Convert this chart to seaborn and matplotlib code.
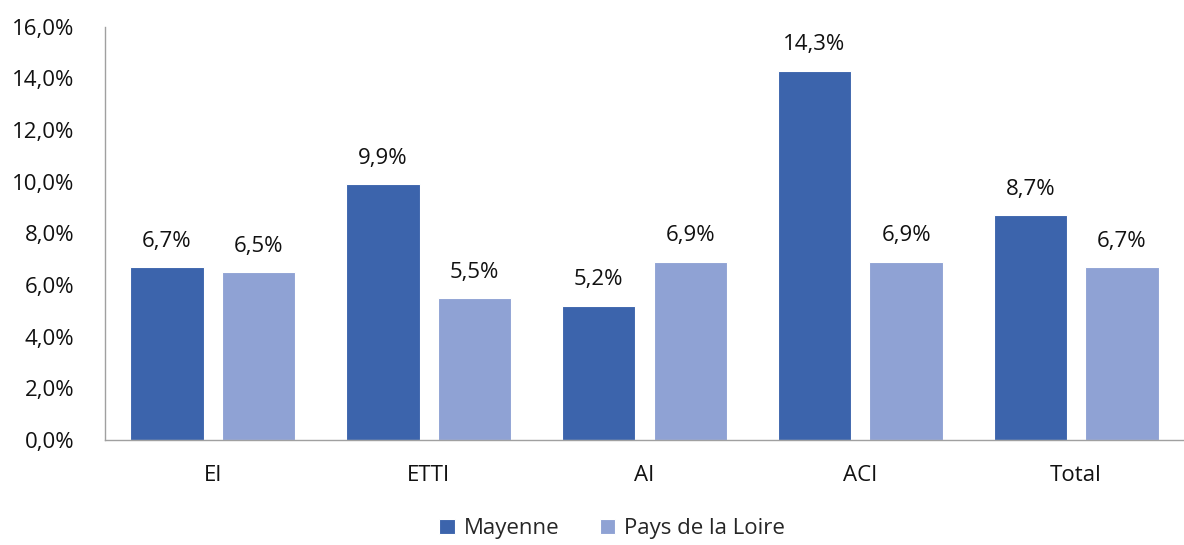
import seaborn as sns
import pandas as pd
import matplotlib.pyplot as plt
from matplotlib.ticker import FuncFormatter

categories = ['EI', 'ETTI', 'AI', 'ACI', 'Total']
mayenne = [6.7, 9.9, 5.2, 14.3, 8.7]
pays_loire = [6.5, 5.5, 6.9, 6.9, 6.7]
series = ['Mayenne', 'Pays de la Loire']
colors = ['#3C64AC', '#8FA2D4']

df = pd.DataFrame({
    'cat': categories * 2,
    'val': mayenne + pays_loire,
    'serie': [series[0]] * 5 + [series[1]] * 5,
})

sns.set_style('white')
plt.rcParams['font.family'] = ['Open Sans', 'DejaVu Sans']
fs = 16

fig = plt.figure(figsize=(11.84, 5.45), dpi=100)
ax = fig.add_axes([0.0887, 0.193, 0.9113, 0.7578])

sns.barplot(data=df, x='cat', y='val', hue='serie', palette=colors, saturation=1,
            width=0.85, gap=0.2, ax=ax, edgecolor='white', linewidth=0.8,
            legend=True)

for cont in ax.containers:
    ax.bar_label(cont, labels=[f'{v:.1f}%'.replace('.', ',') for v in cont.datavalues],
                 padding=11, fontsize=fs, color='#111111')

ax.set_ylim(0, 16)
ax.set_xlim(-0.5, 4.5)
ax.set_yticks(range(0, 17, 2))
ax.yaxis.set_major_formatter(FuncFormatter(lambda v, p: f'{v:.1f}%'.replace('.', ',')))
ax.tick_params(axis='both', labelsize=fs, length=0, colors='#111111')
ax.tick_params(axis='x', pad=18)
ax.tick_params(axis='y', pad=22)
ax.set_xlabel('')
ax.set_ylabel('')
for s in ['top', 'right']:
    ax.spines[s].set_visible(False)
for s in ['left', 'bottom']:
    ax.spines[s].set_color('#a0a0a0')
    ax.spines[s].set_linewidth(1)

ax.legend(loc='center', bbox_to_anchor=(0.47, -0.215), ncol=2, frameon=False,
          fontsize=fs, handlelength=0.7, handleheight=0.7, handletextpad=0.4,
          columnspacing=1.8)

fig.savefig('out.png', dpi=100)
